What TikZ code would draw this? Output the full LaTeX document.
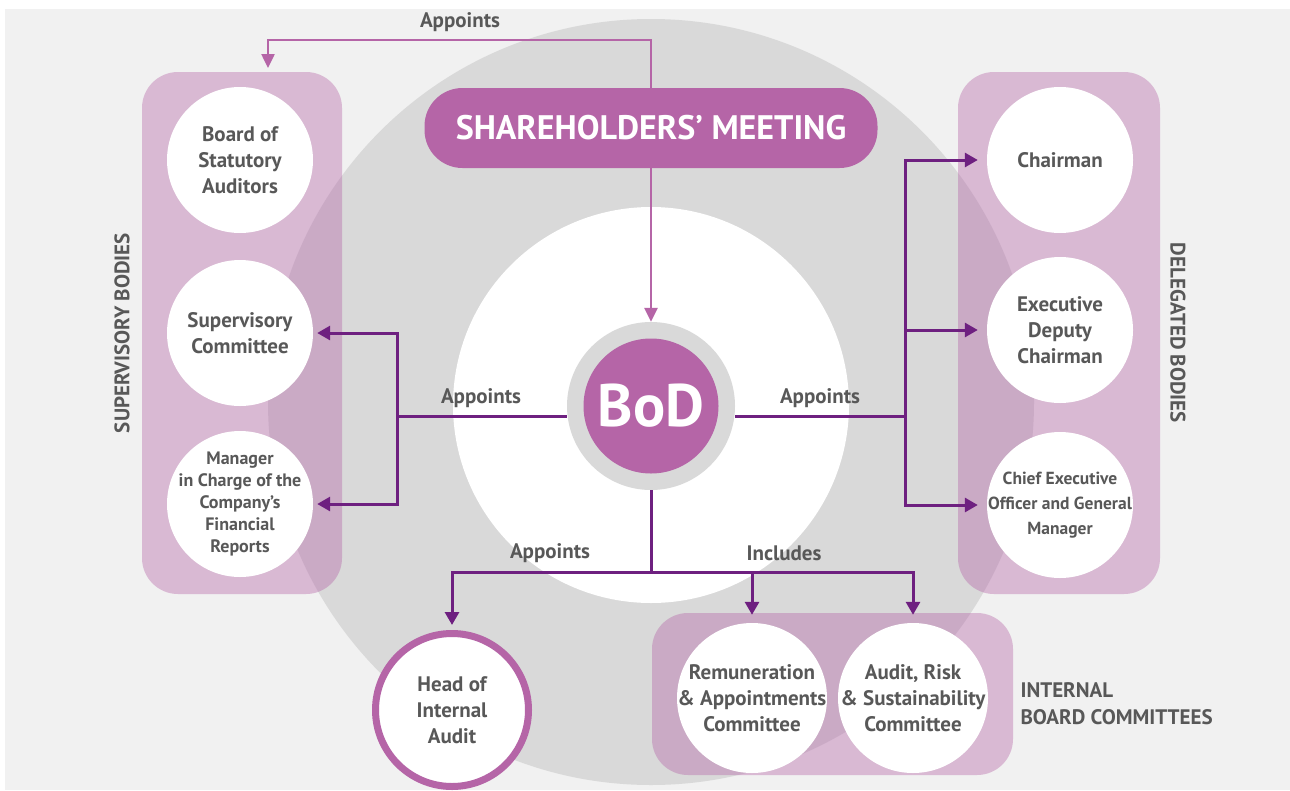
\documentclass[tikz,border=0pt]{standalone}
\usepackage{fontspec}
\setmainfont{PT Sans}
\usetikzlibrary{arrows.meta}

\definecolor{orchid}{HTML}{B565A7}
\definecolor{plum}{HTML}{6E2080}
\definecolor{ink}{HTML}{585858}
\definecolor{paper}{HTML}{F1F1F1}
\definecolor{disc}{HTML}{D9D9D9}

\tikzset{
  body/.style={circle, fill=white, minimum size=146pt, inner sep=-20pt, align=center,
    text=ink, font=\bfseries\fontsize{21}{26}\selectfont},
  panel/.style={fill=orchid, fill opacity=0.4, rounded corners=36pt},
  tag/.style={text=ink, font=\bfseries\fontsize{21}{27}\selectfont},
  link/.style={plum, line width=3pt},
  linkto/.style={link, -{Triangle[width=14pt,length=13pt]}},
  shlink/.style={orchid, line width=2.5pt, -{Triangle[width=13pt,length=14pt]}},
}

\begin{document}
\begin{tikzpicture}[x=1pt, y=-1pt]
  \useasboundingbox (0,0) rectangle (1290,790);
  \fill[white] (0,0) rectangle (1290,790);
  \fill[paper] (5,9) rectangle (1290,790);
  % backdrop discs
  \fill[disc] (651,402) circle (383pt);
  \fill[white] (651,405) circle (198pt);
  % group panels
  \fill[panel] (142,72) rectangle (342,594);
  \fill[panel] (958,72) rectangle (1160,594);
  \fill[panel] (652,613) rectangle (1013,775);

  % meeting and board
  \node[rounded corners=38pt, fill=orchid, minimum width=453pt, minimum height=80pt,
    text=white, font=\bfseries\fontsize{34}{34}\selectfont] (meeting) at (651,128) {SHAREHOLDERS’ MEETING};
  \node[circle, fill=disc, minimum size=168pt] (bod) at (651,406) {};
  \node[circle, fill=orchid, minimum size=135pt, text=white,
    font=\bfseries\fontsize{60}{60}\selectfont] (bodcore) at (bod) {BoD};

  % supervisory bodies
  \node[body] (bsa) at (240,160) {Board of\\Statutory\\Auditors};
  \node[body] (sup) at (240,333) {Supervisory\\Committee};
  \node[body, font=\bfseries\fontsize{18}{22}\selectfont] (mgr) at (240,504)
    {Manager\\in Charge of the\\Company’s\\Financial\\Reports};
  % delegated bodies
  \node[body] (chair) at (1060,160) {Chairman};
  \node[body] (edc) at (1060,330) {Executive\\Deputy\\Chairman};
  \node[body, font=\bfseries\fontsize{17.5}{25}\selectfont] (ceo) at (1060,505)
    {Chief Executive\\Officer and General\\Manager};
  % audit and committees
  \node[body, minimum size=153pt, draw=orchid, line width=7pt] (hia) at (452,710) {Head of\\Internal\\Audit};
  \node[body, minimum size=150pt] (rac) at (752,698) {Remuneration\\\& Appointments\\Committee};
  \node[body, minimum size=150pt] (arsc) at (913,698) {Audit, Risk\\\& Sustainability\\Committee};

  % group names
  \node[tag, rotate=90] (supname) at (122,333) {SUPERVISORY BODIES};
  \node[tag, rotate=-90] (delname) at (1178,333) {DELEGATED BODIES};
  \node[tag, align=left, anchor=west] (ibcname) at (1017,704) {INTERNAL\\BOARD COMMITTEES};

  % connectors
  \coordinate (sbtip) at (268,68);
  \coordinate (lj) at (397,416);
  \coordinate (rj) at (905,416);
  \coordinate (bj) at (651,572);
  \draw[shlink] (meeting.north) -- ++(0,-48) -| (sbtip);
  \draw[shlink] (meeting.south) -- (bod.north);
  \draw[link] (bod.west |- lj) -- (lj);
  \draw[linkto, shorten >=4pt] (lj) |- (sup.east);
  \draw[linkto, shorten >=4pt] (lj) |- (mgr.east);
  \draw[link] (bod.east |- rj) -- (rj);
  \draw[linkto, shorten >=9pt] (rj) |- (chair.west);
  \draw[linkto, shorten >=9pt] (rj) |- (edc.west);
  \draw[linkto, shorten >=9pt] (rj) |- (ceo.west);
  \draw[link] (bod.south) -- (bj);
  \draw[linkto, shorten >=5pt] (bj) -| (hia.north);
  \draw[linkto, shorten >=8pt] (bj) -| (rac.north);
  \draw[linkto, shorten >=8pt] (bj) -| (arsc.north);

  % connector labels
  \node[tag] (aptop) at (460,22) {Appoints};
  \node[tag] (apleft) at (481,398) {Appoints};
  \node[tag] (apright) at (820,398) {Appoints};
  \node[tag] (apdown) at (550,553) {Appoints};
  \node[tag] (incl) at (784,553) {Includes};
\end{tikzpicture}
\end{document}
